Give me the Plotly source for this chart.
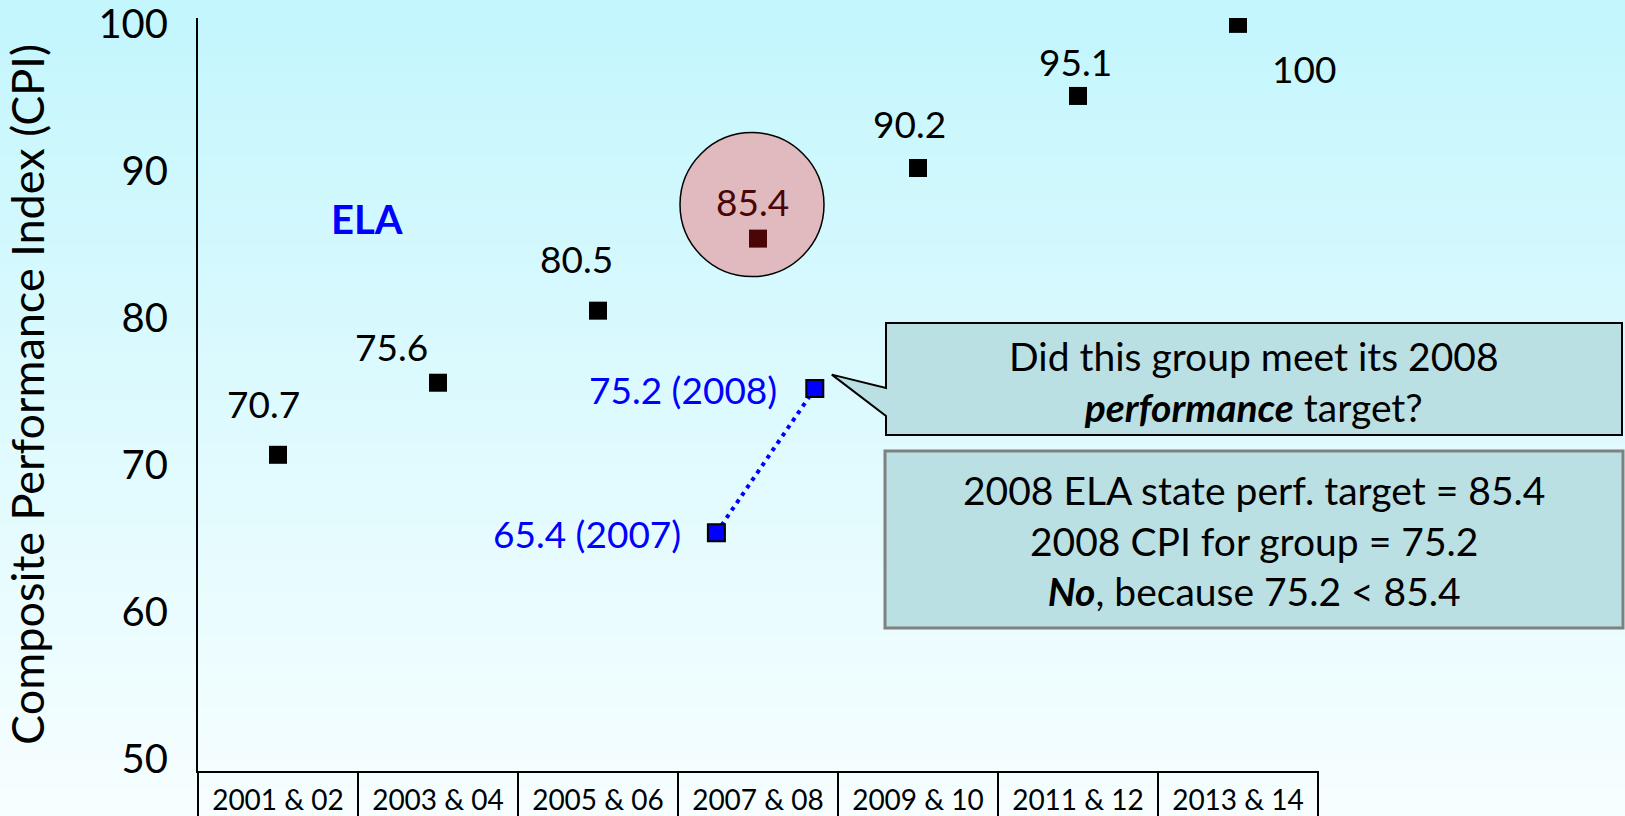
import plotly.graph_objects as go

# --- data ---
periods = ["2001 & 02", "2003 & 04", "2005 & 06", "2007 & 08",
           "2009 & 10", "2011 & 12", "2013 & 14"]
targets = [70.7, 75.6, 80.5, 85.4, 90.2, 95.1, 100]
target_labels = ["70.7", "75.6", "80.5", "85.4", "90.2", "95.1", "100"]

group_years = ["2007", "2008"]
group_cpi = [65.4, 75.2]
group_period = "2007 & 08"

y_ticks = [50, 60, 70, 80, 90, 100]

# --- layout constants ---
W, H = 1625, 816
ML, MR, MT, MB = 198, 307, 18, 45
PW, PH = W - ML - MR, H - MT - MB
XR = [-0.5, len(periods) - 0.5]
YR = [49.2, 100.4]
FONT = "Lato"
TEAL = "#BAE0E3"


def to_paper_x(px):
    return (px - ML) / PW


def to_paper_y(py):
    return 1 - (py - MT) / PH


def data_to_paper(x, y):
    return ((x - XR[0]) / (XR[1] - XR[0]), (y - YR[0]) / (YR[1] - YR[0]))


hi = periods.index(group_period)
group_x = [hi - 0.26, hi + 0.355]

# label offsets in pixels (right, up)
lab_dx = [-15, -47, -22, -6, -9, -3, 66]
lab_dy = [51, 36, 52, 37, 45, 34, -45]

dark_red = "#4A0606"
marker_colors = ["black"] * len(targets)
marker_colors[hi] = dark_red

fig = go.Figure()

fig.add_trace(go.Scatter(
    x=list(range(len(periods))), y=targets, mode="markers",
    marker=dict(symbol="square", size=18, color=marker_colors),
    hoverinfo="skip", showlegend=False))

fig.add_trace(go.Scatter(
    x=group_x, y=group_cpi, mode="lines+markers",
    line=dict(color="#0000FF", width=4, dash="4px,5px"),
    marker=dict(symbol="square", size=17, color="#0000FF",
                line=dict(color="black", width=2)),
    hoverinfo="skip", showlegend=False))

shapes = []

# background gradient
n = 90
top_c = (195, 246, 253)
bot_c = (247, 254, 255)
y_lo, y_hi = to_paper_y(H), to_paper_y(0)
for i in range(n):
    t = i / (n - 1)
    c = tuple(round(bot_c[k] + (top_c[k] - bot_c[k]) * t) for k in range(3))
    shapes.append(dict(
        type="rect", xref="paper", yref="paper", layer="below",
        x0=to_paper_x(0), x1=to_paper_x(W),
        y0=y_lo + (y_hi - y_lo) * i / n, y1=y_lo + (y_hi - y_lo) * (i + 1) / n + 0.002,
        fillcolor="rgb(%d,%d,%d)" % c, line=dict(width=0)))

# highlight circle around the 2008 target
shapes.append(dict(
    type="circle", xref="x", yref="y", layer="below",
    xsizemode="pixel", ysizemode="pixel",
    xanchor=hi, yanchor=targets[hi], x0=-78, x1=66, y0=-38, y1=106,
    fillcolor="#E0BABE", line=dict(color="black", width=1.5)))

# category boxes under the axis
for k in range(len(periods) + 1):
    shapes.append(dict(
        type="line", xref="paper", yref="paper",
        x0=k / len(periods), x1=k / len(periods), y0=0, y1=to_paper_y(H + 5),
        line=dict(color="black", width=2)))

# callout with pointer to the 2008 group point
tx, ty = data_to_paper(group_x[1], group_cpi[1])
tx += 17 / PW
ty += 14 / PH
bx0, bx1, by0, by1 = to_paper_x(886), to_paper_x(1622), to_paper_y(323), to_paper_y(435)
w0, w1 = to_paper_y(388), to_paper_y(416)
path = ("M {a},{b} L {c},{b} L {c},{d} L {a},{d} L {a},{e} L {f},{g} L {a},{h} Z"
        .format(a=bx0, b=by0, c=bx1, d=by1, e=w1, f=tx, g=ty, h=w0))
shapes.append(dict(type="path", xref="paper", yref="paper", path=path,
                   fillcolor=TEAL, line=dict(color="black", width=2)))

# answer box
shapes.append(dict(
    type="rect", xref="paper", yref="paper",
    x0=to_paper_x(885), x1=to_paper_x(1623), y0=to_paper_y(451), y1=to_paper_y(628),
    fillcolor=TEAL, line=dict(color="#808080", width=3)))

annotations = []
for i, (v, lab) in enumerate(zip(targets, target_labels)):
    annotations.append(dict(
        x=i, y=v, text=lab, showarrow=False, xshift=lab_dx[i], yshift=lab_dy[i],
        xanchor="center", yanchor="middle",
        font=dict(family=FONT, size=37, color=dark_red if i == hi else "black")))

for x, v, yr, sh in zip(group_x, group_cpi, group_years, [-33, -36]):
    annotations.append(dict(
        x=x, y=v, text="%s (%s)" % (v, yr), showarrow=False,
        xanchor="right", yanchor="middle", xshift=sh, yshift=-1,
        font=dict(family=FONT, size=37, color="#0000FF")))

annotations.append(dict(
    xref="paper", yref="paper", x=to_paper_x(367), y=to_paper_y(219),
    xanchor="center", yanchor="middle",
    text="<b>ELA</b>", showarrow=False,
    font=dict(family=FONT, size=40, color="#0000FF")))

annotations.append(dict(
    xref="paper", yref="paper", x=to_paper_x(1254), y=to_paper_y(381),
    xanchor="center", yanchor="middle",
    text="Did this group meet its 2008<br><b><i>performance</i></b> target?",
    showarrow=False, align="center",
    font=dict(family=FONT, size=39, color="black")))

annotations.append(dict(
    xref="paper", yref="paper", x=to_paper_x(1254), y=to_paper_y(540),
    xanchor="center", yanchor="middle",
    text="2008 ELA state perf. target = %s<br>2008 CPI for group = %s<br>"
         "<b><i>No</i></b>, because %s &lt; %s"
         % (targets[hi], group_cpi[1], group_cpi[1], targets[hi]),
    showarrow=False, align="center",
    font=dict(family=FONT, size=39, color="black")))

fig.update_layout(
    width=W, height=H,
    margin=dict(l=ML, r=MR, t=MT, b=MB),
    paper_bgcolor="white", plot_bgcolor="rgba(0,0,0,0)",
    shapes=shapes, annotations=annotations,
    font=dict(family=FONT, color="black"),
)
fig.update_xaxes(
    range=XR, tickvals=list(range(len(periods))), ticktext=periods,
    showgrid=False, zeroline=False, showline=True, linecolor="black", linewidth=2,
    ticks="", automargin=False, ticklabelstandoff=3, ticklabeloverflow="allow",
    tickfont=dict(family=FONT, size=28, color="black"))
fig.update_yaxes(
    range=YR, tickvals=y_ticks, showgrid=False, zeroline=False,
    showline=True, linecolor="black", linewidth=2, ticks="",
    automargin=False, ticklabelstandoff=20, ticklabeloverflow="allow",
    tickfont=dict(family=FONT, size=40, color="black"),
    title=dict(text="Composite Performance Index (CPI)", standoff=48,
               font=dict(family=FONT, size=45, color="black")))

# page body has a default margin; drop it so the figure fills the window
fig.write_html("out.html",
               config={"displayModeBar": False},
               post_script="document.body.style.margin='0';"
                           "document.body.style.overflow='hidden';")
